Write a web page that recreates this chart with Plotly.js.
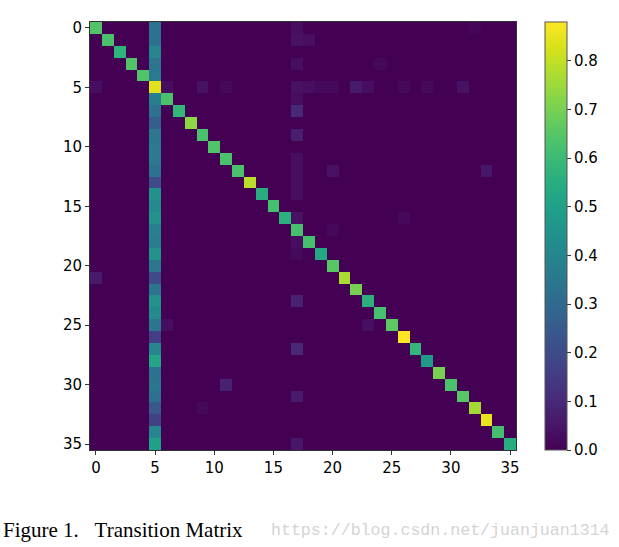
<!DOCTYPE html>
<html>
<head>
<meta charset="utf-8">
<script src="https://cdn.plot.ly/plotly-3.0.1.min.js"></script>
<style>html,body{margin:0;padding:0;background:#fff;}#chart{width:619px;height:547px;}</style>
</head>
<body>
<div id="chart"></div>
<script>
// Diagonal values (row i, col i)
const diagValues = [0.64,0.63,0.57,0.64,0.64,0.84,0.63,0.58,0.73,0.63,0.64,0.63,
  0.63,0.79,0.55,0.62,0.56,0.62,0.62,0.53,0.65,0.77,0.70,0.56,
  0.62,0.66,0.88,0.58,0.48,0.70,0.63,0.65,0.76,0.85,0.62,0.55];
// Column 5 values (row i, col 5)
const col5Values = [0.33,0.33,0.40,0.34,0.36,0.84,0.37,0.33,0.26,0.35,0.36,0.36,
  0.33,0.20,0.44,0.42,0.45,0.38,0.37,0.45,0.35,0.20,0.34,0.45,
  0.42,0.34,0.16,0.40,0.52,0.33,0.34,0.32,0.24,0.17,0.40,0.50];
// Small off-diagonal entries
const offRows = [5,5,5,5,5,5,5,5,5,5,5,5,5, 0,1,1,3,6,7,9,11,12,12,12,13,14,16,16,18,19,23,27,31,35, 3,0,21,25,30,32,17,25];
const offCols = [0,6,9,11,17,18,19,20,22,23,26,28,31, 17,17,18,17,17,17,17,17,17,20,33,17,17,17,26,17,17,17,17,17,17, 24,32,0,6,11,9,20,23];
const offVals = [0.03,0.03,0.04,0.02,0.04,0.03,0.02,0.02,0.06,0.03,0.02,0.02,0.04, 0.03,0.04,0.03,0.03,0.03,0.10,0.07,0.03,0.03,0.04,0.05,0.03,0.03,0.04,0.02,0.03,0.02,0.08,0.10,0.06,0.05, 0.02,0.01,0.06,0.03,0.08,0.02,0.02,0.03];
const n = 36;
const tickVals = [0,5,10,15,20,25,30,35];
const cbTicks = [0,0.1,0.2,0.3,0.4,0.5,0.6,0.7,0.8];

const z = [];
for (let i = 0; i < n; i++) { z.push(new Array(n).fill(0)); }
for (let k = 0; k < offRows.length; k++) { z[offRows[k]][offCols[k]] = offVals[k]; }
for (let i = 0; i < n; i++) { z[i][5] = col5Values[i]; }
for (let i = 0; i < n; i++) { z[i][i] = diagValues[i]; }

const trace = {
  type: 'heatmap',
  z: z,
  colorscale: 'Viridis',
  zmin: 0, zmax: 0.88,
  xgap: 0, ygap: 0,
  colorbar: {
    x: 1.068, xanchor: 'left', xref: 'paper', xpad: 0, ypad: 0,
    y: 0.5, yanchor: 'middle', len: 1, lenmode: 'fraction',
    thickness: 22, thicknessmode: 'pixels',
    outlinewidth: 1, outlinecolor: '#555',
    tickmode: 'array', tickvals: cbTicks, ticktext: cbTicks.map(v => v.toFixed(1)),
    ticks: 'outside', ticklen: 4, tickcolor: '#333',
    tickfont: {family: 'DejaVu Sans', size: 15, color: '#000'}
  }
};

const layout = {
  width: 619, height: 547,
  margin: {l: 90, r: 103, t: 22, b: 97, autoexpand: false},
  paper_bgcolor: '#fff', plot_bgcolor: '#fff',
  font: {family: 'DejaVu Sans', size: 15, color: '#000'},
  xaxis: {
    range: [-0.5, 35.5], tickmode: 'array', tickvals: tickVals,
    ticks: 'outside', ticklen: 4, tickcolor: '#333',
    showline: true, linecolor: '#333', linewidth: 1, mirror: true,
    showgrid: false, zeroline: false
  },
  yaxis: {
    range: [35.5, -0.5], tickmode: 'array', tickvals: tickVals,
    ticks: 'outside', ticklen: 4, tickcolor: '#333',
    showline: true, linecolor: '#333', linewidth: 1, mirror: true,
    showgrid: false, zeroline: false
  },
  annotations: [
    {text: 'Figure 1.&nbsp;&nbsp;&nbsp;Transition Matrix', xref: 'paper', yref: 'paper',
     x: -0.209, y: -0.187, xanchor: 'left', yanchor: 'middle', showarrow: false,
     font: {family: 'Liberation Serif', size: 21, color: '#000'}},
    {text: 'https://blog.csdn.net/juanjuan1314', xref: 'paper', yref: 'paper',
     x: 0.421, y: -0.187, xanchor: 'left', yanchor: 'middle', showarrow: false,
     font: {family: 'Liberation Mono', size: 16.6, color: '#d4d4d4'}}
  ]
};

Plotly.newPlot('chart', [trace], layout, {displayModeBar: false, staticPlot: true});
</script>
</body>
</html>
